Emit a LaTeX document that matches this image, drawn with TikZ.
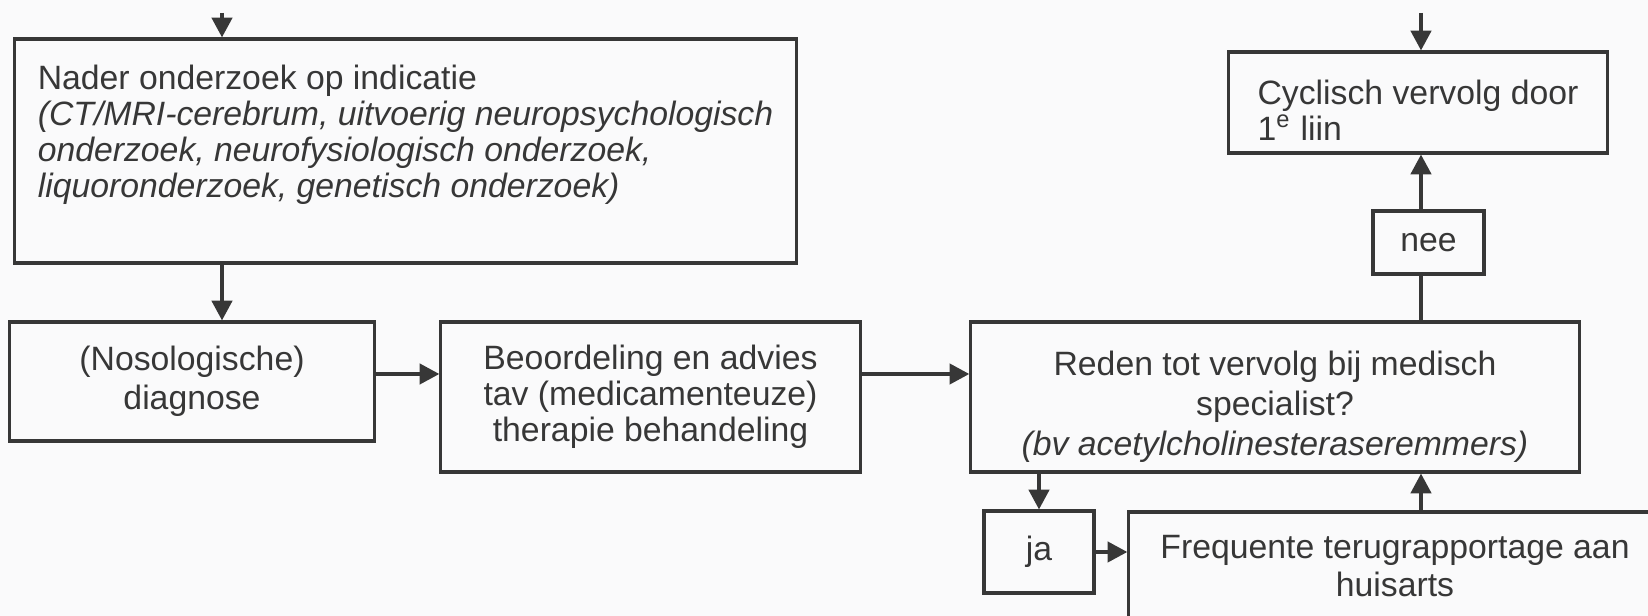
\documentclass[tikz,border=0pt]{standalone}
\usepackage{fontspec}
\setmainfont{Liberation Sans}
\usetikzlibrary{arrows.meta}
\definecolor{ink}{RGB}{55,55,55}
\definecolor{paper}{RGB}{250,250,251}
\tikzset{every picture/.append style={x=0.01cm, y=-0.01cm}}
\tikzset{
  box/.style={draw=ink, line width=0.9pt, text=ink, inner sep=0pt, align=center,
    font=\fontsize{9.6pt}{11pt}\selectfont},
  arr/.style={draw=ink, line width=0.9pt, -{Triangle[length=5.6pt,width=5.8pt]}},
  lin/.style={draw=ink, line width=0.9pt},
}

\begin{document}
\begin{tikzpicture}
  \fill[paper] (0,0) rectangle (1648,616);
  \clip (0,0) rectangle (1648,616);
  \node[box, align=left, minimum width=7.81cm, minimum height=2.24cm,
    font=\fontsize{9.6pt}{10.2pt}\selectfont] (onderzoek) at(405.5,151)
    {Nader onderzoek op indicatie\\
     \textit{(CT/MRI-cerebrum, uitvoerig neuropsychologisch}\\
     \textit{onderzoek, neurofysiologisch onderzoek,}\\
     \textit{liquoronderzoek, genetisch onderzoek)}\\[1pt]\mbox{}};
  \node[box, minimum width=3.64cm, minimum height=1.19cm] (diagnose) at(192,381.5)
    {(Nosologische)\\diagnose};
  \node[box, minimum width=4.19cm, minimum height=1.50cm,
    font=\fontsize{9.6pt}{10.3pt}\selectfont] (advies) at(650.5,397)
    {Beoordeling en advies\\tav (medicamenteuze)\\therapie behandeling};
  \node[box, minimum width=6.08cm, minimum height=1.50cm,
    font=\fontsize{9.6pt}{11.4pt}\selectfont] (reden) at(1275,397)
    {\rule{0pt}{12.5pt}Reden tot vervolg bij medisch\\specialist?\\\textit{(bv acetylcholinesteraseremmers)}};
  \node[box, align=left, minimum width=3.78cm, minimum height=1.01cm,
    font=\fontsize{9.6pt}{10.2pt}\selectfont] (cyclisch) at(1418,102.5)
    {\rule{0pt}{11.5pt}Cyclisch vervolg door\\1\textsuperscript{e} liin};
  \node[box, minimum width=1.11cm, minimum height=0.63cm] (nee) at(1428.5,242.5) {nee};
  \node[box, minimum width=1.10cm, minimum height=0.82cm] (ja) at(1039,552) {ja};
  \node[box, minimum width=5.32cm, minimum height=1.08cm] (terug) at(1395,566)
    {Frequente terugrapportage aan\\huisarts};

  \coordinate (in1) at(222,13);
  \coordinate (in2) at(1421,13);
  \coordinate (row) at(0,374);

  \draw[arr] (in1) -- (in1 |- onderzoek.north);
  \draw[arr] (in1 |- onderzoek.south) -- (in1 |- diagnose.north);
  \draw[arr] (diagnose.east |- row) -- (advies.west |- row);
  \draw[arr] (advies.east |- row) -- (reden.west |- row);
  \draw[arr] (in2) -- (in2 |- cyclisch.north);
  \draw[lin] (reden.north -| in2) -- (nee.south -| in2);
  \draw[arr] (nee.north -| in2) -- (in2 |- cyclisch.south);
  \draw[arr] (reden.south -| ja) -- (ja.north);
  \draw[arr] (ja.east) -- (ja.east -| terug.west);
  \draw[arr] (terug.north -| in2) -- (reden.south -| in2);
\end{tikzpicture}
\end{document}
